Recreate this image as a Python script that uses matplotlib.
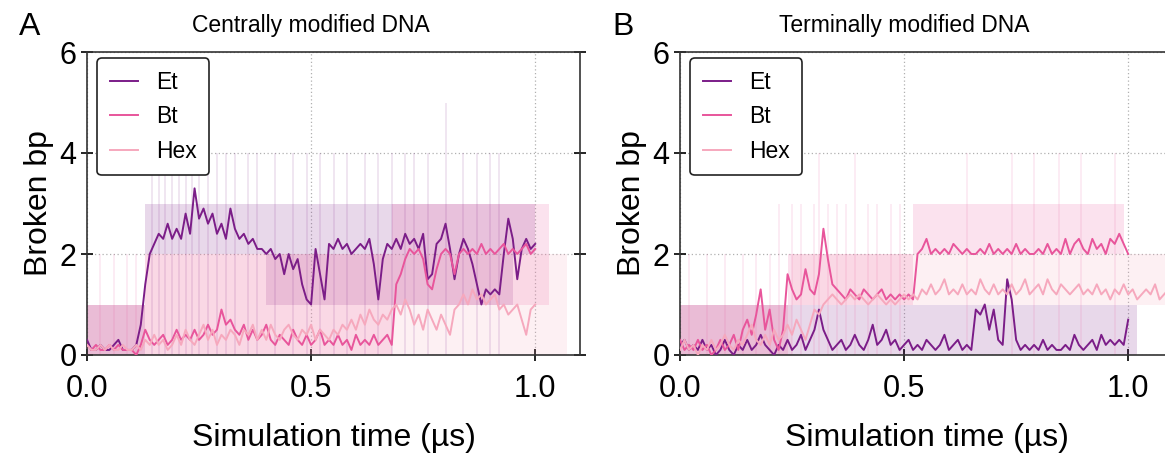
import numpy as np
import matplotlib
matplotlib.use("Agg")
import matplotlib.pyplot as plt

plt.rcParams['font.family'] = ['Liberation Sans', 'DejaVu Sans']

# ---------------- data ----------------
time_1us = np.round(np.arange(101) * 0.01, 2)     # 0.00 .. 1.00 us
time_11us = np.round(np.arange(111) * 0.01, 2)    # 0.00 .. 1.10 us

# Panel A : centrally modified DNA (running averages)
a_et = [0.3, 0.1, 0.1, 0.2, 0.1, 0.1, 0.2, 0.3, 0.1, 0.1,
        0.1, 0.2, 0.6, 1.4, 2.0, 2.2, 2.4, 2.3, 2.6, 2.3,
        2.5, 2.3, 2.8, 2.4, 3.3, 2.7, 2.9, 2.6, 2.8, 2.4,
        2.6, 2.3, 2.9, 2.5, 2.3, 2.4, 2.2, 2.3, 2.1, 2.1,
        2.0, 2.1, 1.9, 2.0, 1.6, 2.0, 1.7, 1.9, 1.4, 1.1,
        1.0, 2.1, 1.6, 1.1, 2.2, 2.1, 2.3, 2.1, 2.2, 2.0,
        2.1, 2.2, 2.1, 2.3, 1.8, 1.1, 1.9, 2.2, 2.1, 2.3,
        2.1, 2.4, 2.2, 2.3, 2.1, 2.4, 1.5, 1.6, 2.2, 2.3,
        2.6, 2.1, 1.5, 2.0, 2.3, 2.1, 1.8, 1.4, 1.0, 1.3,
        1.2, 1.3, 1.2, 2.0, 2.7, 2.3, 1.5, 2.1, 2.3, 2.1, 2.2]
a_bt = [0.2, 0.1, 0.2, 0.1, 0.1, 0.2, 0.1, 0.2, 0.1, 0.1,
        0.1, 0.0, 0.2, 0.5, 0.3, 0.2, 0.3, 0.4, 0.2, 0.3,
        0.5, 0.3, 0.4, 0.3, 0.5, 0.3, 0.4, 0.6, 0.4, 0.5,
        0.9, 0.6, 0.7, 0.5, 0.4, 0.6, 0.3, 0.5, 0.3, 0.4,
        0.6, 0.3, 0.2, 0.4, 0.3, 0.2, 0.5, 0.3, 0.2, 0.4,
        0.2, 0.3, 0.5, 0.2, 0.3, 0.2, 0.4, 0.2, 0.3, 0.1,
        0.4, 0.2, 0.3, 0.2, 0.4, 0.2, 0.3, 0.4, 0.2, 1.4,
        1.6, 1.9, 2.1, 2.0, 2.1, 1.9, 1.4, 1.3, 1.7, 2.0,
        2.1, 2.0, 1.6, 2.0, 2.1, 2.0, 2.1, 2.0, 2.2, 2.0,
        2.1, 2.0, 2.1, 2.2, 2.0, 2.1, 2.0, 2.1, 2.2, 2.0, 2.1]
a_hex = [0.2, 0.1, 0.1, 0.2, 0.1, 0.2, 0.1, 0.1, 0.2, 0.1,
         0.1, 0.2, 0.1, 0.3, 0.2, 0.4, 0.2, 0.3, 0.1, 0.2,
         0.4, 0.2, 0.5, 0.3, 0.2, 0.4, 0.6, 0.3, 0.5, 0.2,
         0.4, 0.3, 0.5, 0.4, 0.2, 0.5, 0.4, 0.6, 0.3, 0.5,
         0.3, 0.6, 0.4, 0.3, 0.5, 0.6, 0.4, 0.3, 0.5, 0.4,
         0.6, 0.3, 0.5, 0.4, 0.3, 0.5, 0.4, 0.6, 0.5, 0.7,
         0.5, 0.8, 0.6, 0.9, 0.7, 0.6, 0.8, 0.7, 0.9, 1.0,
         0.8, 1.1, 0.9, 0.6, 0.8, 0.5, 0.9, 0.7, 0.5, 0.8,
         0.6, 0.4, 0.9, 1.0, 1.2, 1.0, 1.3, 1.1, 1.2, 1.0,
         1.1, 1.2, 0.9, 1.0, 0.8, 0.9, 1.0, 0.7, 0.4, 0.9, 1.0]

# Panel B : terminally modified DNA (running averages)
b_et = [0.2, 0.3, 0.1, 0.2, 0.1, 0.3, 0.1, 0.2, 0.0, 0.1,
        0.3, 0.1, 0.0, 0.2, 0.1, 0.3, 0.1, 0.2, 0.4, 0.2,
        0.1, 0.0, 0.2, 0.1, 0.3, 0.1, 0.2, 0.4, 0.1, 0.3,
        0.5, 0.9, 0.5, 0.3, 0.1, 0.2, 0.3, 0.1, 0.2, 0.4,
        0.2, 0.1, 0.3, 0.6, 0.2, 0.3, 0.5, 0.2, 0.3, 0.1,
        0.2, 0.3, 0.1, 0.2, 0.1, 0.3, 0.2, 0.1, 0.2, 0.4,
        0.1, 0.2, 0.3, 0.1, 0.2, 0.1, 0.9, 0.8, 1.0, 0.5,
        0.9, 0.3, 0.2, 1.5, 1.1, 0.3, 0.1, 0.2, 0.1, 0.2,
        0.1, 0.3, 0.1, 0.2, 0.1, 0.1, 0.2, 0.1, 0.4, 0.2,
        0.1, 0.2, 0.3, 0.1, 0.4, 0.2, 0.3, 0.2, 0.3, 0.2, 0.7]
b_bt = [0.3, 0.1, 0.2, 0.1, 0.3, 0.1, 0.2, 0.0, 0.1, 0.3,
        0.1, 0.2, 0.4, 0.1, 0.5, 0.7, 0.4, 0.8, 1.3, 0.5,
        0.9, 0.3, 0.1, 0.5, 1.6, 1.3, 1.1, 1.2, 1.7, 1.3,
        1.2, 1.6, 2.5, 1.9, 1.4, 1.3, 1.2, 1.1, 1.3, 1.2,
        1.1, 1.3, 1.2, 1.1, 1.2, 1.3, 1.1, 1.2, 1.1, 1.2,
        1.1, 1.2, 1.1, 2.0, 2.1, 2.3, 2.0, 2.1, 2.0, 2.1,
        2.0, 2.2, 2.1, 2.0, 2.1, 2.0, 2.0, 2.1, 2.0, 2.2,
        2.0, 2.1, 2.0, 2.1, 2.0, 2.2, 2.0, 2.1, 2.0, 2.0,
        2.1, 2.0, 2.2, 2.0, 2.1, 2.0, 2.3, 2.0, 2.2, 2.3,
        2.1, 2.0, 2.3, 2.1, 2.2, 2.0, 2.3, 2.2, 2.4, 2.2, 2.0]
b_hex = [0.1, 0.3, 0.1, 0.2, 0.0, 0.2, 0.1, 0.3, 0.1, 0.2,
         0.4, 0.2, 0.1, 0.3, 0.2, 0.4, 0.6, 0.3, 0.2, 0.4,
         0.2, 0.5, 0.3, 0.4, 0.6, 0.4, 0.7, 0.5, 0.3, 0.6,
         0.9, 0.8, 1.0, 1.1, 1.2, 1.1, 1.0, 1.1, 1.2, 1.1,
         1.2, 1.1, 1.0, 1.1, 1.2, 1.1, 1.0, 1.1, 1.0, 1.1,
         1.2, 1.1, 1.2, 1.1, 1.3, 1.2, 1.4, 1.2, 1.3, 1.5,
         1.2, 1.3, 1.2, 1.4, 1.2, 1.3, 1.2, 1.5, 1.3, 1.2,
         1.4, 1.2, 1.3, 1.2, 1.4, 1.2, 1.3, 1.5, 1.2, 1.3,
         1.4, 1.2, 1.5, 1.3, 1.2, 1.4, 1.3, 1.2, 1.3, 1.4,
         1.2, 1.3, 1.2, 1.4, 1.2, 1.3, 1.1, 1.3, 1.2, 1.4,
         1.2, 1.3, 1.1, 1.2, 1.3, 1.2, 1.4, 1.1, 1.2, 1.3, 1.2]

# raw (integer) broken-bp ranges: segment edges, lower and upper levels
a_et_edges, a_et_lo, a_et_hi = [0.0, 0.13, 0.40, 0.95, 1.00], [0, 2, 1, 2], [1, 3, 3, 3]
a_bt_edges, a_bt_lo, a_bt_hi = [0.0, 0.13, 0.68, 1.03], [0, 0, 1], [1, 2, 3]
a_hex_edges, a_hex_lo, a_hex_hi = [0.0, 0.13, 1.07], [0, 0], [1, 2]
b_et_edges, b_et_lo, b_et_hi = [0.0, 1.02], [0], [1]
b_bt_edges, b_bt_lo, b_bt_hi = [0.0, 0.24, 0.52, 0.99], [0, 1, 2], [1, 2, 3]
b_hex_edges, b_hex_lo, b_hex_hi = [0.0, 0.25, 1.10], [0, 1], [1, 2]

# transient raw spikes: times and peak level
a_et_spike_t = [0.145, 0.16, 0.175, 0.19, 0.205, 0.22, 0.235, 0.25, 0.27, 0.29,
                0.31, 0.33, 0.36, 0.38, 0.42, 0.46, 0.49, 0.52, 0.55, 0.58,
                0.62, 0.65, 0.68, 0.71, 0.73, 0.76, 0.80, 0.84, 0.87, 0.90, 0.92]
a_et_spike_v = [4, 4, 4, 4, 4, 4, 4, 4, 4, 4,
                4, 4, 4, 4, 4, 4, 4, 4, 4, 4,
                4, 4, 4, 4, 4, 4, 5, 4, 4, 4, 4]
a_bt_spike_t = [0.03, 0.06, 0.09, 0.11]
a_bt_spike_v = [2, 2, 2, 2]
b_bt_spike_t = [0.02, 0.06, 0.10, 0.14, 0.17, 0.20, 0.22, 0.25, 0.27, 0.30,
                0.31, 0.33, 0.35, 0.37, 0.39, 0.42, 0.44, 0.47, 0.49,
                0.64, 0.74, 0.79, 0.845, 0.895, 0.97]
b_bt_spike_v = [2, 2, 2, 2, 2, 2, 3, 3, 3, 3,
                4, 3, 3, 3, 4, 3, 3, 3, 3,
                4, 4, 4, 4, 4, 4]

series_names = ["Et", "Bt", "Hex"]
colors = ["#7b1d88", "#e8559b", "#f6a8bd"]
titles = ["Centrally modified DNA", "Terminally modified DNA"]
panel_tags = ["A", "B"]

# ---------------- figure ----------------
fig = plt.figure(figsize=(11.65, 4.54), dpi=100)
axA = fig.add_axes([87 / 1165, 99 / 454, 493 / 1165, 303 / 454])
axB = fig.add_axes([680 / 1165, 99 / 454, 493 / 1165, 303 / 454])


def draw_band(ax, edges, lo, hi, color):
    for i in range(len(lo)):
        ax.fill_between([edges[i], edges[i + 1]], lo[i], hi[i], color=color,
                        alpha=0.17, lw=0, zorder=1)


def draw_spikes(ax, ts, vs, color):
    ax.vlines(ts, 0, vs, color=color, alpha=0.13, lw=1.2, zorder=1)


panels = [
    (axA, [(a_et_edges, a_et_lo, a_et_hi), (a_bt_edges, a_bt_lo, a_bt_hi), (a_hex_edges, a_hex_lo, a_hex_hi)],
     [(time_1us, a_et), (time_1us, a_bt), (time_1us, a_hex)],
     [(a_et_spike_t, a_et_spike_v, 0), (a_bt_spike_t, a_bt_spike_v, 1)]),
    (axB, [(b_et_edges, b_et_lo, b_et_hi), (b_bt_edges, b_bt_lo, b_bt_hi), (b_hex_edges, b_hex_lo, b_hex_hi)],
     [(time_1us, b_et), (time_1us, b_bt), (time_11us, b_hex)],
     [(b_bt_spike_t, b_bt_spike_v, 1)]),
]

for k, (ax, bands, lines, spikes) in enumerate(panels):
    for (e, lo, hi), c in zip(bands, colors):
        draw_band(ax, e, lo, hi, c)
    for ts, vs, ci in spikes:
        draw_spikes(ax, ts, vs, colors[ci])
    for (t, y), c, name in zip(lines, colors, series_names):
        ax.plot(t, y, color=c, lw=1.4, label=name, zorder=3)

    ax.set_xlim(0, 1.1)
    ax.set_ylim(0, 6)
    ax.set_xticks([0.0, 0.5, 1.0])
    ax.set_xticklabels(["0.0", "0.5", "1.0"])
    ax.set_yticks([0, 2, 4, 6])
    ax.tick_params(axis='both', labelsize=22, direction='inout', length=9, width=1.2)
    ax.tick_params(axis='x', pad=9)
    ax.tick_params(axis='y', pad=3, right=True)
    ax.grid(True, color="#b0b0b0", ls=(0, (1, 2)), lw=0.9, zorder=0)
    ax.set_axisbelow(True)
    for s in ax.spines.values():
        s.set_linewidth(1.2)
        s.set_color("#333333")
    ax.set_xlabel("Simulation time (\u00b5s)", fontsize=23, labelpad=14)
    ax.set_ylabel("Broken bp", fontsize=23, labelpad=4)
    ax.text(0.5, 6.3, titles[k], ha='center', va='bottom', fontsize=16.5)
    ax.text(-0.128, 6.2, panel_tags[k], ha='center', va='bottom', fontsize=23)
    leg = ax.legend(loc='upper left', bbox_to_anchor=(0.012, 0.995), fontsize=16.5,
                    handlelength=1.2, handletextpad=0.8, labelspacing=0.5,
                    borderpad=0.55, borderaxespad=0.2, fancybox=True, framealpha=1,
                    edgecolor="#222222")
    leg.get_frame().set_linewidth(1.2)

fig.savefig("out.png", dpi=100)
